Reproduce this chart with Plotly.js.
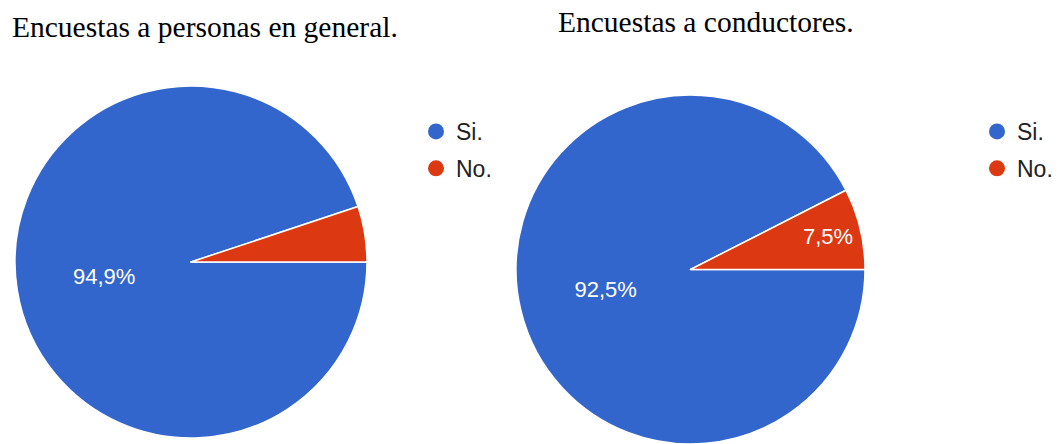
<!DOCTYPE html>
<html>
<head>
<meta charset="utf-8">
<script src="https://cdn.plot.ly/plotly-3.0.1.min.js"></script>
<style>html,body{margin:0;padding:0;background:#fff;}#chart{width:1058px;height:444px;}</style>
</head>
<body>
<div id="chart"></div>
<script>
const categories = ['Si.', 'No.'];
const colors = ['#3366cc', '#dc3912'];
const titleGeneral = 'Encuestas a personas en general.';
const titleDrivers = 'Encuestas a conductores.';
const valuesGeneral = [94.9, 5.1];
const valuesDrivers = [92.5, 7.5];
const labelShownGeneral = [true, false];
const labelShownDrivers = [true, true];

const tmpl = shown => shown.map(s => s ? '%{percent:.1%}' : '');

function pie(values, shown, domain) {
  return {
    type: 'pie',
    labels: categories,
    values: values,
    sort: false,
    direction: 'clockwise',
    rotation: 90,
    marker: {colors: colors, line: {color: '#ffffff', width: 1.5}},
    texttemplate: tmpl(shown),
    textposition: 'inside',
    insidetextorientation: 'horizontal',
    textfont: {family: 'Liberation Sans, Arial, sans-serif', size: 22, color: '#ffffff'},
    hoverinfo: 'label+percent',
    showlegend: false,
    domain: domain
  };
}

function legendTraces(legendId) {
  return categories.map((c, i) => ({
    type: 'scatter', mode: 'markers', x: [null], y: [null],
    name: c, legend: legendId, legendgroup: legendId + '_' + i,
    marker: {color: colors[i], size: 16, symbol: 'circle'},
    hoverinfo: 'skip'
  }));
}

const data = [
  pie(valuesGeneral, labelShownGeneral, {x: [15/1058, 367/1058], y: [1 - 438/444, 1 - 86/444]}),
  pie(valuesDrivers, labelShownDrivers, {x: [515/1058, 866/1058], y: [0, 1 - 95/444]}),
  ...legendTraces('legend'),
  ...legendTraces('legend2')
];

const legendFont = {family: 'Liberation Sans, Arial, sans-serif', size: 23, color: '#222222'};
const titleFont = {family: 'Liberation Serif, Times New Roman, serif', size: 29.5, color: '#000000'};

const layout = {
  width: 1058, height: 444,
  margin: {l: 0, r: 0, t: 0, b: 0},
  paper_bgcolor: '#ffffff', plot_bgcolor: '#ffffff',
  separators: ',.',
  xaxis: {visible: false}, yaxis: {visible: false},
  legend: {x: 416/1058, xanchor: 'left', y: 1 - 110/444, yanchor: 'top', font: legendFont, bgcolor: 'rgba(0,0,0,0)', tracegroupgap: 4},
  legend2: {x: 977/1058, xanchor: 'left', y: 1 - 110/444, yanchor: 'top', font: legendFont, bgcolor: 'rgba(0,0,0,0)', tracegroupgap: 4},
  annotations: [
    {text: titleGeneral, xref: 'paper', yref: 'paper', x: 10/1058, xanchor: 'left', y: 1 - 9/444, yanchor: 'top', showarrow: false, font: titleFont},
    {text: titleDrivers, xref: 'paper', yref: 'paper', x: 556/1058, xanchor: 'left', y: 1 - 4/444, yanchor: 'top', showarrow: false, font: titleFont}
  ]
};

Plotly.newPlot('chart', data, layout, {displayModeBar: false, staticPlot: true});
</script>
</body>
</html>
